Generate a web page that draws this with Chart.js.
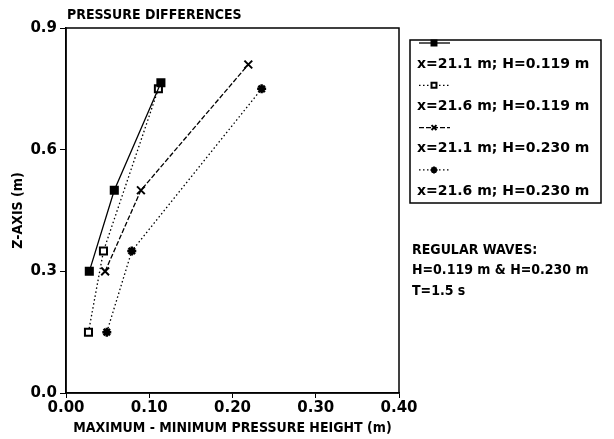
<!DOCTYPE html>
<html>
<head>
  <meta charset="UTF-8">
  <title>Pressure differences</title>
  <script src="https://cdn.jsdelivr.net/npm/chart.js@4.4.0/dist/chart.umd.min.js"></script>
  <style>
    body { margin: 0; background: #fff; }
    .wrap { width: 614px; height: 439px; position: relative; }
  </style>
</head>
<body>
  <div class="wrap"><canvas id="c" width="614" height="439"></canvas></div>
  <script>
    // series labels
    const seriesLabels = [
      'x=21.1 m; H=0.119 m',
      'x=21.6 m; H=0.119 m',
      'x=21.1 m; H=0.230 m',
      'x=21.6 m; H=0.230 m'
    ];
    // max - min pressure height (m) and z (m)
    const heightA = [0.028, 0.058, 0.114];
    const zA      = [0.30, 0.50, 0.765];
    const heightB = [0.027, 0.045, 0.111];
    const zB      = [0.15, 0.35, 0.75];
    const heightC = [0.047, 0.090, 0.219];
    const zC      = [0.30, 0.50, 0.81];
    const heightD = [0.049, 0.079, 0.235];
    const zD      = [0.15, 0.35, 0.75];

    const notes = ['REGULAR WAVES:', 'H=0.119 m & H=0.230 m', 'T=1.5 s'];

    const cond = '"DejaVu Sans Condensed", "Liberation Sans Narrow", "DejaVu Sans", sans-serif';
    const plain = '"DejaVu Sans", "Liberation Sans", sans-serif';

    function pts(xs, ys) {
      return xs.map((x, i) => ({ x: x, y: ys[i] }));
    }

    const styles = [
      { dash: [], point: 'rect', fill: '#000', r: 5 },
      { dash: [1.5, 2.5], point: 'rect', fill: '#fff', r: 5 },
      { dash: [5, 2], point: 'crossRot', fill: '#000', r: 5.5 },
      { dash: [1.5, 2.5], point: 'star', fill: '#000', r: 4.5 }
    ];
    const series = [pts(heightA, zA), pts(heightB, zB), pts(heightC, zC), pts(heightD, zD)];

    const datasets = series.map((d, i) => ({
      label: seriesLabels[i],
      data: d,
      showLine: true,
      borderColor: '#000',
      borderWidth: 1.3,
      borderDash: styles[i].dash,
      pointStyle: styles[i].point,
      pointRadius: styles[i].r,
      pointBackgroundColor: styles[i].fill,
      pointBorderColor: '#000',
      pointBorderWidth: i === 3 ? 2.5 : 2
    }));

    // frame, title, legend box and notes
    const extras = {
      id: 'extras',
      afterDraw(chart) {
        const ctx = chart.ctx;
        const a = chart.chartArea;
        ctx.save();
        ctx.strokeStyle = '#000';
        ctx.lineWidth = 1.5;
        ctx.strokeRect(a.left, a.top, a.right - a.left, a.bottom - a.top);

        ctx.fillStyle = '#000';
        ctx.font = 'bold 14px ' + cond;
        ctx.textBaseline = 'middle';
        ctx.fillText('PRESSURE DIFFERENCES', 67, 15);

        // legend box
        ctx.lineWidth = 1.5;
        ctx.strokeRect(410, 40, 191, 163);
        ctx.font = 'bold 14px ' + plain;
        chart.data.datasets.forEach((ds, i) => {
          const ly = 43 + i * 42.3;
          ctx.save();
          ctx.lineWidth = 1.3;
          ctx.setLineDash(ds.borderDash);
          ctx.beginPath();
          ctx.moveTo(419, ly);
          ctx.lineTo(450, ly);
          ctx.stroke();
          ctx.setLineDash([]);
          ctx.fillStyle = ds.pointBackgroundColor;
          ctx.lineWidth = 2;
          Chart.helpers.drawPoint(ctx, {
            pointStyle: ds.pointStyle, radius: 3.5, borderWidth: 2, rotation: 0
          }, 434, ly);
          ctx.restore();
          ctx.fillText(ds.label, 417, ly + 21);
        });

        ctx.font = 'bold 14px ' + cond;
        notes.forEach((t, i) => ctx.fillText(t, 412, 250 + i * 20.5));
        ctx.restore();
      }
    };

    new Chart(document.getElementById('c'), {
      type: 'scatter',
      data: { datasets: datasets },
      options: {
        responsive: false,
        animation: false,
        layout: { padding: { top: 28, right: 215, bottom: 0, left: 0 } },
        plugins: { legend: { display: false }, tooltip: { enabled: false } },
        scales: {
          x: {
            min: 0, max: 0.4,
            afterFit(s) { s.height = 46; },
            grid: { drawOnChartArea: false, color: '#000', tickLength: 5 },
            border: { color: '#000', width: 1.5 },
            ticks: {
              stepSize: 0.1, color: '#000', padding: 1,
              font: { family: plain, size: 15, weight: 'bold' },
              callback: v => v.toFixed(2)
            },
            title: {
              display: true, text: 'MAXIMUM - MINIMUM PRESSURE HEIGHT (m)', color: '#000',
              font: { family: cond, size: 14, weight: 'bold' }, padding: { top: 0, bottom: 2 }
            }
          },
          y: {
            min: 0, max: 0.9,
            afterFit(s) { s.width = 66; },
            grid: { drawOnChartArea: false, color: '#000', tickLength: 6 },
            border: { color: '#000', width: 1.5 },
            ticks: {
              stepSize: 0.3, color: '#000', padding: 3,
              font: { family: plain, size: 15, weight: 'bold' },
              callback: v => v.toFixed(1)
            },
            title: {
              display: true, text: 'Z-AXIS (m)', color: '#000',
              font: { family: cond, size: 14, weight: 'bold' }, padding: { top: 10, bottom: 0 }
            }
          }
        }
      },
      plugins: [extras]
    });
  </script>
</body>
</html>
